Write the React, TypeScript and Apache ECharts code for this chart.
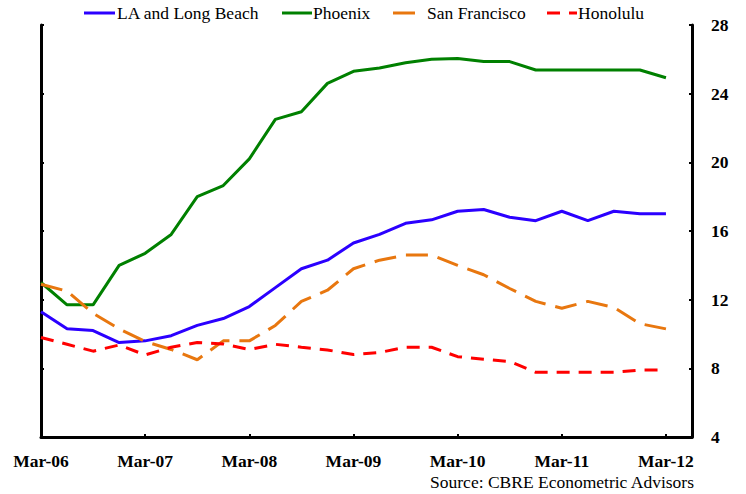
import React, { useEffect, useRef } from "react";
import * as echarts from "echarts";

const categories = [
  "Mar-06", "Jun-06", "Sep-06", "Dec-06",
  "Mar-07", "Jun-07", "Sep-07", "Dec-07",
  "Mar-08", "Jun-08", "Sep-08", "Dec-08",
  "Mar-09", "Jun-09", "Sep-09", "Dec-09",
  "Mar-10", "Jun-10", "Sep-10", "Dec-10",
  "Mar-11", "Jun-11", "Sep-11", "Dec-11",
  "Mar-12", "Jun-12",
];

const laLongBeach = [
  11.3, 10.3, 10.2, 9.5, 9.6, 9.9, 10.5, 10.9, 11.6, 12.7, 13.8, 14.3, 15.3,
  15.8, 16.45, 16.65, 17.15, 17.25, 16.8, 16.6, 17.15, 16.6, 17.15, 17.0, 17.0,
];
const phoenix = [
  13.0, 11.7, 11.7, 14.0, 14.7, 15.8, 18.0, 18.65, 20.2, 22.5, 22.95, 24.6, 25.3,
  25.5, 25.8, 26.0, 26.05, 25.87, 25.87, 25.38, 25.38, 25.38, 25.38, 25.38, 24.93,
];
const sanFrancisco = [
  12.9, 12.5, 11.2, 10.3, 9.56, 9.1, 8.5, 9.6, 9.6, 10.5, 11.9, 12.55, 13.8,
  14.3, 14.6, 14.6, 14.0, 13.45, 12.65, 11.9, 11.5, 11.9, 11.55, 10.6, 10.3,
];
const honolulu = [
  9.8, 9.4, 9.0, 9.36, 8.78, 9.23, 9.5, 9.42, 9.1, 9.4, 9.23, 9.07, 8.8,
  8.92, 9.23, 9.23, 8.68, 8.53, 8.4, 7.77, 7.77, 7.77, 7.77, 7.9, 7.9,
];

const seriesNames = ["LA and Long Beach", "Phoenix", "San Francisco", "Honolulu"];
const seriesColors = ["#2b00ff", "#008000", "#e8770f", "#ff0000"];

const yMin = 4;
const yMax = 28;
const yStep = 4;
const sourceText = "Source: CBRE Econometric Advisors";

const FONT = "Liberation Serif";

export default function App() {
  const ref = useRef<HTMLDivElement>(null);
  useEffect(() => {
    if (!ref.current) return;
    const chart = echarts.init(ref.current, null, { renderer: "svg" });
    const axisLine = { show: true, lineStyle: { color: "#000", width: 3 } };
    const tick = { show: true, inside: true, length: 3, lineStyle: { color: "#000", width: 2 } };
    const dashes: any[] = ["solid", "solid", [22, 10], [13, 9]];
    const datasets = [laLongBeach, phoenix, sanFrancisco, honolulu];

    // legend drawn as graphic (line sample + text)
    const legendSpec = [
      { x0: 84, x1: 115, tx: 117 },
      { x0: 282, x1: 312, tx: 313 },
      { x0: 393, x1: 423, tx: 427 },
      { x0: 547, x1: 577, tx: 578 },
    ];
    const legendGraphics: any[] = [];
    legendSpec.forEach((s, i) => {
      legendGraphics.push({
        type: "line",
        shape: { x1: s.x0, y1: 13, x2: s.x1, y2: 13 },
        style: {
          stroke: seriesColors[i],
          lineWidth: 3,
          lineDash: Array.isArray(dashes[i]) ? dashes[i] : null,
        },
      });
      legendGraphics.push({
        type: "text",
        x: s.tx,
        y: 13,
        style: {
          text: seriesNames[i],
          textAlign: "left",
          textVerticalAlign: "middle",
          fontFamily: FONT,
          fontSize: 17.5,
          fill: "#000",
        },
      });
    });

    chart.setOption({
      animation: false,
      backgroundColor: "#fff",
      textStyle: { fontFamily: FONT },
      grid: { left: 41, right: 54, top: 25, bottom: 57 },
      xAxis: {
        type: "category",
        data: categories,
        boundaryGap: false,
        axisLine,
        axisTick: { ...tick, interval: 3 },
        axisLabel: {
          interval: 3,
          margin: 15,
          color: "#000",
          fontFamily: FONT,
          fontSize: 17.5,
          fontWeight: "bold",
        },
        splitLine: { show: false },
      },
      yAxis: [
        {
          type: "value",
          position: "left",
          min: yMin,
          max: yMax,
          interval: yStep,
          axisLine,
          axisTick: tick,
          axisLabel: { show: false },
          splitLine: { show: false },
        },
        {
          type: "value",
          position: "right",
          min: yMin,
          max: yMax,
          interval: yStep,
          axisLine,
          axisTick: tick,
          axisLabel: {
            margin: 19,
            color: "#000",
            fontFamily: FONT,
            fontSize: 17.5,
            fontWeight: "bold",
          },
          splitLine: { show: false },
        },
      ],
      series: datasets.map((data, i) => ({
        name: seriesNames[i],
        type: "line",
        data,
        symbol: "none",
        lineStyle: { color: seriesColors[i], width: 3, type: dashes[i] },
        itemStyle: { color: seriesColors[i] },
      })),
      graphic: [
        ...legendGraphics,
        {
          type: "text",
          x: 694,
          y: 482,
          style: {
            text: sourceText,
            textAlign: "right",
            textVerticalAlign: "middle",
            fontFamily: FONT,
            fontSize: 17.5,
            fill: "#000",
          },
        },
      ],
    });
    return () => chart.dispose();
  }, []);
  return (
    <div
      ref={ref}
      style={{ position: "fixed", left: 0, top: 0, width: 746, height: 494, background: "#fff" }}
    />
  );
}
